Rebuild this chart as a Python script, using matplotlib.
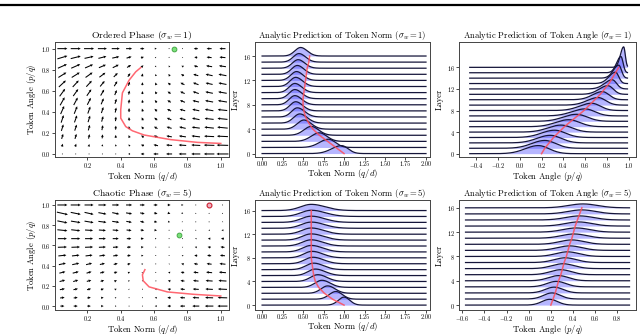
import numpy as np
import matplotlib
matplotlib.use("Agg")
import matplotlib.pyplot as plt
from matplotlib.lines import Line2D

plt.rcParams["font.family"] = "serif"
plt.rcParams["font.serif"] = ["cmr10"]
plt.rcParams["mathtext.fontset"] = "cm"
plt.rcParams["axes.formatter.use_mathtext"] = True

# ---- vector field grid (rows from p=1.0 down to p=0.0) ----
q_grid = [0.05, 0.13, 0.21, 0.29, 0.37, 0.45, 0.53, 0.61, 0.69, 0.77, 0.85, 0.93, 1.01]
p_grid = [1.0, 0.917, 0.833, 0.75, 0.667, 0.583, 0.5, 0.417, 0.333, 0.25, 0.167, 0.083, 0.0]

# ordered phase arrows (pixel components)
ord_u = [
    [10, 10, 10, 9, 8, 6, 4, 2, 0.5, -1, -4, -5, -6],
    [10, 10, 9, 8, 7, 5, 3, 1, 0, -1, -3, -5, -6],
    [9, 9, 8, 7, 6, 4, 2, 0.5, -1, -2, -4, -6, -7],
    [8, 8, 7, 6, 4, 2.5, 1, -0.5, -1.5, -3, -5, -7, -8],
    [7, 6, 5.5, 4.5, 3, 1.5, 0.3, -1, -2.5, -4, -5.5, -7, -8],
    [5.5, 5, 4.5, 3.5, 2, 0.8, 0, -1.5, -3, -4.5, -6, -7.5, -8.5],
    [4.5, 4, 3.5, 2.5, 1.5, 0.5, -0.5, -2, -3.5, -5, -6.5, -8, -9],
    [3.5, 3, 2.5, 2, 1, 0, -1, -2.5, -4, -5.5, -7, -8.5, -9.5],
    [2.5, 2.5, 2, 1.5, 0.5, -0.3, -1.5, -3, -4.5, -6, -7.5, -9, -10],
    [2, 2, 1.5, 1, 0.3, -0.5, -2, -3.5, -5, -6.5, -8, -9.5, -10.5],
    [1.5, 1.5, 1, 0.5, 0, -1, -2.5, -4, -5.5, -7, -8.5, -10, -11],
    [1, 1, 0.5, 0.3, -0.3, -1.5, -3, -4.5, -6, -7.5, -9, -10.5, -11.5],
    [1, 0.5, 0.3, 0, -0.5, -2, -3.5, -5, -6, -7.5, -9, -10.5, -12],
]
ord_v = [
    [0, 0, 0, 0, 0, 0, 0, 0, 0, 0, 0, 0, 0],
    [3, 2.5, 2, 2, 1.5, 1.5, 1, 1, 0.5, 0.5, 0.5, 0.5, 0.5],
    [4, 4, 3.5, 3, 3, 2.5, 2, 1.5, 1.5, 1, 1, 1, 1],
    [5, 5, 5, 4.5, 4, 3.5, 3, 2, 2, 1.5, 1.5, 1.5, 1.5],
    [6.5, 6.5, 6, 5.5, 5, 4, 3, 2.5, 2, 2, 2, 1.5, 1.5],
    [7.5, 7, 6.5, 6, 5, 4, 3, 2.5, 2, 2, 2, 1.5, 1.5],
    [8, 7.5, 7, 6, 5, 4, 3, 2.5, 2, 2, 1.5, 1.5, 1.5],
    [8, 7.5, 7, 6, 5, 4, 3, 2.5, 2, 1.5, 1.5, 1.5, 1],
    [7.5, 7, 6.5, 5.5, 4.5, 3.5, 3, 2.5, 2, 1.5, 1.5, 1, 1],
    [6.5, 6, 5.5, 5, 4, 3, 2.5, 2, 1.5, 1.5, 1, 1, 1],
    [5, 5, 4.5, 4, 3, 2.5, 2, 1.5, 1, 1, 1, 0.5, 0.5],
    [3, 3, 2.5, 2, 2, 1.5, 1, 1, 0.5, 0.5, 0.5, 0.3, 0.3],
    [0, 0, 0, 0, 0, 0, 0, 0, 0, 0, 0, 0, 0],
]

# chaotic phase arrows (pixel components)
cha_u = [
    [10, 10, 9, 8, 7, 6, 5, 4, 3, 2, 1, 0, -1],
    [11, 10, 9, 8, 7, 6, 4.5, 3.5, 2.5, 1.5, 0.5, 0, -0.5],
    [10, 9.5, 9, 8, 7, 5.5, 4, 3, 2, 1, 0, -0.5, -1],
    [10, 9, 8, 7, 6, 5, 3.5, 2.5, 1, 0, -1, -1.5, -2],
    [9, 9, 8, 7, 6, 4.5, 3, 1.5, 0.5, -0.5, -1.5, -2.5, -3],
    [9, 8.5, 8, 7, 5.5, 4, 2.5, 1, 0, -1, -2, -3, -4],
    [8, 7.5, 7, 6, 5, 3.5, 2, 0.5, -0.5, -1.5, -3, -4, -5],
    [7, 7, 6, 5, 4, 3, 1.5, 0, -1, -2.5, -4, -5, -6],
    [6, 6, 5, 4.5, 3.5, 2, 1, -0.5, -2, -3.5, -5, -6, -7],
    [5.5, 5, 4.5, 3.5, 2.5, 1.5, 0.5, -1, -2.5, -4, -5.5, -7, -8],
    [5, 4.5, 4, 3, 2, 1, 0, -1.5, -3, -4.5, -6, -7.5, -9],
    [4.5, 4, 3.5, 2.5, 1.5, 0.5, -0.5, -2, -3.5, -5, -6.5, -8, -9.5],
    [4, 4, 3.5, 2.5, 1.5, 0.5, -0.5, -2, -3.5, -5, -7, -8.5, -10],
]
cha_v = [
    [0, 0, 0, 0, 0, 0, 0, 0, 0, 0, 0, 0, 0],
    [-2.5, -2, -2, -1.5, -1.5, -1, -1, -1, -1, -1, -0.5, -0.5, -0.5],
    [-2, -1.5, -1.5, -1, -1, -1, -1, -0.5, -0.5, -0.5, -0.5, -0.5, -0.5],
    [-1, -1, -0.5, -0.5, -0.5, -0.5, -0.5, -0.3, 0, 0, 0, 0, 0],
    [0, 0, 0, 0, 0, 0, 0, 0, 0, 0, 0, 0, 0],
    [0.3, 0.3, 0.3, 0.3, 0.3, 0.3, 0.3, 0.3, 0.3, 0.5, 0.5, 0.5, 0.5],
    [0.8, 0.8, 0.8, 0.8, 0.8, 0.6, 0.5, 0.5, 0.5, 0.5, 0.5, 0.5, 0.5],
    [1.5, 1.5, 1.5, 1.2, 1, 1, 0.8, 0.6, 0.6, 0.6, 0.6, 0.6, 0.6],
    [1.5, 1.5, 1.5, 1.2, 1, 1, 0.8, 0.8, 0.6, 0.6, 0.6, 0.6, 0.6],
    [1.5, 1.5, 1.2, 1.2, 1, 0.8, 0.8, 0.8, 0.6, 0.6, 0.6, 0.5, 0.5],
    [1, 1, 1, 1, 0.8, 0.8, 0.6, 0.6, 0.5, 0.5, 0.4, 0.4, 0.4],
    [0.6, 0.6, 0.6, 0.5, 0.5, 0.5, 0.4, 0.4, 0.4, 0.3, 0.3, 0.3, 0.3],
    [0, 0, 0, 0, 0, 0, 0, 0, 0, 0, 0, 0, 0],
]

# trajectories and fixed points
ord_traj_q = [1.0, 0.86, 0.70, 0.54, 0.47, 0.43, 0.40, 0.40, 0.41, 0.45, 0.49, 0.52]
ord_traj_p = [0.10, 0.11, 0.136, 0.18, 0.22, 0.26, 0.34, 0.42, 0.58, 0.70, 0.78, 0.82]
cha_traj_q = [1.0, 0.84, 0.68, 0.57, 0.535, 0.53, 0.545]
cha_traj_p = [0.10, 0.116, 0.14, 0.19, 0.25, 0.31, 0.36]
ord_fixed = (0.72, 1.0)
cha_fixed = (0.75, 0.70)
cha_unstable = (0.93, 1.0)

# ---- ridgeline data, per layer 0..16 ----
layers = list(range(17))

norm1_peak = [0.97, 0.81, 0.70, 0.60, 0.51, 0.46, 0.43, 0.41, 0.40, 0.40, 0.40, 0.41, 0.42, 0.43, 0.44, 0.45, 0.47]
norm1_wl = [0.12, 0.11, 0.10, 0.09, 0.08, 0.075, 0.07, 0.07, 0.07, 0.07, 0.07, 0.07, 0.07, 0.07, 0.07, 0.07, 0.07]
norm1_wr = [0.08, 0.085, 0.09, 0.09, 0.09, 0.09, 0.09, 0.085, 0.085, 0.085, 0.085, 0.085, 0.08, 0.08, 0.08, 0.08, 0.08]
norm1_h = [1.3, 1.35, 1.4, 1.45, 1.5, 1.5, 1.5, 1.5, 1.5, 1.5, 1.5, 1.5, 1.45, 1.45, 1.4, 1.4, 1.4]
norm1_mean = [1.00, 0.90, 0.80, 0.70, 0.62, 0.57, 0.53, 0.51, 0.50, 0.50, 0.51, 0.52, 0.53, 0.54, 0.55, 0.57, 0.58]

angle1_peak = [0.17, 0.23, 0.28, 0.32, 0.38, 0.45, 0.52, 0.60, 0.66, 0.72, 0.76, 0.81, 0.85, 0.88, 0.91, 0.93, 0.955]
angle1_wl = [0.12, 0.12, 0.12, 0.12, 0.12, 0.12, 0.12, 0.12, 0.11, 0.10, 0.09, 0.08, 0.07, 0.06, 0.05, 0.04, 0.03]
angle1_wr = [0.10, 0.10, 0.10, 0.10, 0.10, 0.10, 0.10, 0.09, 0.08, 0.07, 0.06, 0.05, 0.04, 0.03, 0.025, 0.02, 0.015]
angle1_h = [1.5, 1.45, 1.4, 1.35, 1.3, 1.3, 1.3, 1.3, 1.35, 1.4, 1.5, 1.6, 1.7, 2.1, 2.4, 3.0, 3.8]
angle1_mean = [0.20, 0.23, 0.27, 0.31, 0.36, 0.41, 0.47, 0.53, 0.59, 0.64, 0.69, 0.74, 0.78, 0.82, 0.85, 0.88, 0.91]

norm5_peak = [1.0, 0.9, 0.8, 0.73, 0.68, 0.65, 0.63, 0.62, 0.61, 0.60, 0.60, 0.60, 0.60, 0.60, 0.60, 0.60, 0.60]
norm5_wl = [0.07, 0.08, 0.08, 0.085, 0.09, 0.09, 0.095, 0.1, 0.1, 0.105, 0.11, 0.11, 0.115, 0.12, 0.12, 0.125, 0.13]
norm5_wr = [0.07, 0.08, 0.09, 0.1, 0.11, 0.12, 0.12, 0.13, 0.13, 0.14, 0.14, 0.15, 0.15, 0.16, 0.16, 0.17, 0.17]
norm5_h = [1.35, 1.3, 1.25, 1.2, 1.15, 1.1, 1.1, 1.1, 1.1, 1.1, 1.05, 1.05, 1.05, 1.05, 1.05, 1.05, 1.05]
norm5_mean = [1.00, 0.86, 0.76, 0.69, 0.65, 0.63, 0.62, 0.61, 0.60, 0.60, 0.60, 0.60, 0.60, 0.60, 0.60, 0.60, 0.60]

angle5_peak = [0.19, 0.21, 0.23, 0.25, 0.27, 0.29, 0.31, 0.33, 0.35, 0.37, 0.39, 0.41, 0.43, 0.45, 0.46, 0.48, 0.49]
angle5_w = [0.07, 0.075, 0.08, 0.085, 0.09, 0.095, 0.1, 0.1, 0.105, 0.11, 0.11, 0.115, 0.12, 0.12, 0.125, 0.125, 0.13]
angle5_h = [0.95, 1.0, 0.95, 0.9, 0.85, 0.82, 0.8, 0.78, 0.76, 0.74, 0.72, 0.7, 0.69, 0.68, 0.67, 0.66, 0.64]
angle5_mean = [0.20, 0.22, 0.24, 0.255, 0.27, 0.29, 0.305, 0.32, 0.34, 0.355, 0.37, 0.39, 0.405, 0.42, 0.44, 0.46, 0.48]

LINE_C = "#15153a"
FILL_C = (0.25, 0.25, 1.0)
RED_C = (1.0, 0.3, 0.35)

fig = plt.figure(figsize=(6.4, 3.36), dpi=100)
fig.add_artist(Line2D([0, 1], [0.985, 0.985], transform=fig.transFigure, color="black", lw=1.6))


def style(ax):
    ax.tick_params(labelsize=4.5, length=2, width=0.5, pad=1)
    for s in ax.spines.values():
        s.set_linewidth(0.7)
        s.set_color("#444444")


def quiver_panel(rect, U, V, tq, tp, title, xlim, ylim):
    ax = fig.add_axes(rect)
    Q, P = np.meshgrid(q_grid, p_grid)
    ax.quiver(Q, P, np.array(U), np.array(V), pivot="mid", angles="uv",
              scale_units="dots", scale=1.0, width=0.006,
              headwidth=2.6, headlength=2.6, headaxislength=2.4, color="black")
    ax.plot(tq, tp, color=RED_C, lw=1.1, alpha=0.85)
    ax.set_xlim(*xlim)
    ax.set_ylim(*ylim)
    ax.set_xticks([0.2, 0.4, 0.6, 0.8, 1.0])
    ax.set_yticks([0.0, 0.2, 0.4, 0.6, 0.8, 1.0])
    ax.set_title(title, fontsize=7, pad=2)
    ax.set_xlabel(r"Token Norm ($q/d$)", fontsize=6.2, labelpad=0)
    ax.set_ylabel(r"Token Angle ($p/q$)", fontsize=6.2, labelpad=2)
    style(ax)
    return ax


def ridge_panel(rect, x0, x1, peak, wl, wr, h, mean, title, xlabel, xlim, ylim, xticks):
    ax = fig.add_axes(rect)
    x = np.linspace(x0, x1, 600)
    for i in reversed(layers):
        w = np.where(x < peak[i], wl[i], wr[i])
        y = i + h[i] * np.exp(-0.5 * ((x - peak[i]) / w) ** 2)
        ax.fill_between(x, i, y, color=FILL_C, alpha=0.38, lw=0)
        ax.plot(x, y, color=LINE_C, lw=0.9)
    ax.plot(mean, layers, color=RED_C, lw=1.1, alpha=0.85)
    ax.set_xlim(*xlim)
    ax.set_ylim(*ylim)
    ax.set_xticks(xticks)
    ax.set_yticks([0, 4, 8, 12, 16])
    ax.set_title(title, fontsize=6.2, pad=2)
    ax.set_xlabel(xlabel, fontsize=6.2, labelpad=0)
    ax.set_ylabel("Layer", fontsize=6.2, labelpad=2)
    style(ax)
    return ax


BOT = [0.077, 0.328]

ax = quiver_panel([0.086, 0.533, 0.272, 0.342], ord_u, ord_v, ord_traj_q, ord_traj_p,
                  r"Ordered Phase ($\sigma_w = 1$)", (0.006, 1.05), (-0.028, 1.063))
ax.plot(*ord_fixed, "o", ms=3.5, mfc="#7be07b", mec="#3aa03a", mew=0.6)

ax = quiver_panel([0.086, BOT[0], 0.272, BOT[1]], cha_u, cha_v, cha_traj_q, cha_traj_p,
                  r"Chaotic Phase ($\sigma_w = 5$)", (0.006, 1.05), (-0.04, 1.05))
ax.plot(*cha_fixed, "o", ms=3.5, mfc="#7be07b", mec="#3aa03a", mew=0.6)
ax.plot(*cha_unstable, "o", ms=3.5, mfc="#f0b0c0", mec="#cc2030", mew=0.8)

norm_ticks = [0.0, 0.25, 0.5, 0.75, 1.0, 1.25, 1.5, 1.75, 2.0]
ax = ridge_panel([0.398, 0.533, 0.274, 0.342], 0.0, 2.0, norm1_peak, norm1_wl, norm1_wr,
                 norm1_h, norm1_mean, r"Analytic Prediction of Token Norm ($\sigma_w = 1$)",
                 r"Token Norm ($q/d$)", (-0.09, 2.05), (-0.55, 18.3), norm_ticks)
ax.xaxis.set_major_formatter(matplotlib.ticker.FormatStrFormatter("%.2f"))

ax = ridge_panel([0.398, BOT[0], 0.274, BOT[1]], 0.0, 2.0, norm5_peak, norm5_wl, norm5_wr,
                 norm5_h, norm5_mean, r"Analytic Prediction of Token Norm ($\sigma_w = 5$)",
                 r"Token Norm ($q/d$)", (-0.09, 2.05), (-0.85, 17.8), norm_ticks)
ax.xaxis.set_major_formatter(matplotlib.ticker.FormatStrFormatter("%.2f"))

ridge_panel([0.717, 0.533, 0.277, 0.342], -0.46, 0.99, angle1_peak, angle1_wl, angle1_wr,
            angle1_h, angle1_mean, r"Analytic Prediction of Token Angle ($\sigma_w = 1$)",
            r"Token Angle ($p/q$)", (-0.56, 1.07), (-0.6, 20.7),
            [-0.4, -0.2, 0.0, 0.2, 0.4, 0.6, 0.8, 1.0])

ridge_panel([0.717, BOT[0], 0.277, BOT[1]], -0.57, 0.91, angle5_peak, angle5_w, angle5_w,
            angle5_h, angle5_mean, r"Analytic Prediction of Token Angle ($\sigma_w = 5$)",
            r"Token Angle ($p/q$)", (-0.63, 0.97), (-0.83, 17.3),
            [-0.6, -0.4, -0.2, 0.0, 0.2, 0.4, 0.6, 0.8])

fig.savefig("out.png", dpi=100)
